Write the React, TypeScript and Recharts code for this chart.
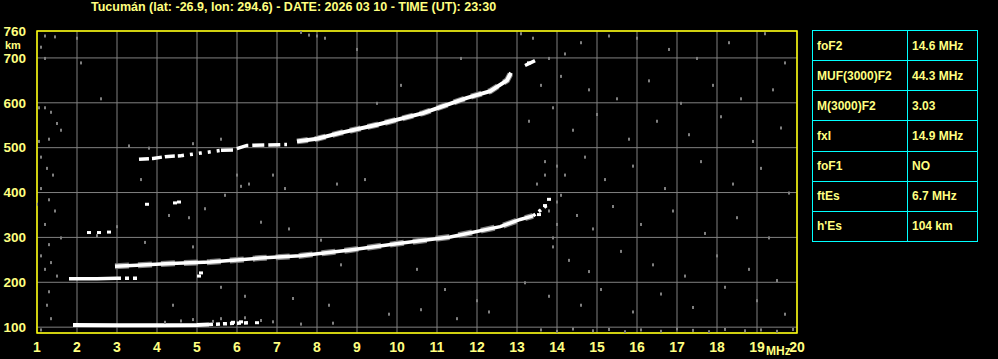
import React from "react";
import {
  ComposedChart,
  Line,
  Scatter,
  XAxis,
  YAxis,
  CartesianGrid,
  ReferenceArea,
} from "recharts";

type Pt = { f: number; h: number };
const pts = (a: number[][]): Pt[] => a.map(([f, h]) => ({ f, h }));

const freqTicks = [1, 2, 3, 4, 5, 6, 7, 8, 9, 10, 11, 12, 13, 14, 15, 16, 17, 18, 19, 20];
const heightTicks = [100, 200, 300, 400, 500, 600, 700, 760];

// E-layer echo (~104 km)
const eTrace = pts([[1.9, 105], [3, 104], [4, 104], [5, 105], [5.3, 106]]);
const eTraceSpotty = pts([[5.3, 106], [5.8, 108], [6.3, 110]]);

// low trace near 210 km
const lowTrace = pts([[1.8, 208], [2.5, 208], [3.0, 209]]);
const lowTraceSpotty = pts([[3.0, 209], [3.5, 209]]);

// F-layer trace
const fTrace = pts([
  [2.95, 236], [3.5, 238], [4.33, 242], [5.33, 245], [6.58, 254], [7.58, 259],
  [8.83, 272], [10.08, 287], [11.33, 301], [12.58, 324], [13.08, 340], [13.4, 348],
]);
const fTraceSpotty = pts([[13.4, 348], [13.55, 358], [13.75, 372]]);

// second hop F trace
const f2TraceA = pts([[3.55, 474], [3.9, 476], [4.2, 480], [4.6, 482]]);
const f2TraceB = pts([[4.6, 482], [5.1, 488], [5.6, 494]]);
const f2TraceC = pts([[5.6, 494], [5.9, 495], [6.25, 505], [7.25, 507]]);
const f2TraceD = pts([
  [7.5, 514], [8.0, 520], [8.58, 533], [9.5, 551], [10.65, 577], [11.75, 611],
  [12.33, 626], [12.75, 650], [12.85, 667],
]);
const f2TraceE = pts([[13.2, 683], [13.45, 694]]);

// isolated bright echoes
const whiteSpots = pts([
  [3.75, 375], [4.45, 378], [4.55, 380], [2.3, 312], [2.55, 312], [2.8, 313],
  [5.05, 215], [5.1, 222], [13.55, 352], [13.7, 372], [13.8, 386], [5.9, 112],
  [6.1, 113], [6.5, 111], [13.3, 690],
]);

// background noise
const noise = pts([
  [1.2, 750], [1.45, 748], [1.1, 725], [1.2, 700], [1.05, 590], [1.2, 590], [1.35, 580],
  [1.5, 555], [1.6, 540], [1.3, 520], [1.05, 515], [1.1, 480], [1.25, 455], [1.4, 440],
  [1.1, 410], [1.3, 385], [1.0, 375], [1.45, 360], [1.2, 330], [1.6, 300], [1.3, 285],
  [1.1, 260], [1.35, 245], [1.2, 230], [1.5, 215], [1.3, 180], [1.25, 150], [1.35, 120],
  [1.1, 95], [2.0, 745], [2.1, 690], [2.6, 610], [3.3, 505], [3.8, 500], [4.9, 510],
  [5.6, 520], [3.6, 430], [4.3, 350], [4.8, 345], [5.2, 365], [5.7, 395], [6.1, 415],
  [6.3, 420], [6.0, 440], [6.9, 440], [7.2, 410], [8.5, 420], [9.2, 430], [9.5, 600],
  [10.1, 640], [11.6, 700], [8.0, 750], [7.6, 758], [7.8, 752], [8.2, 745], [9.0, 720],
  [6.6, 335], [7.3, 320], [8.1, 295], [8.6, 240], [10.5, 230], [11.2, 185], [12.0, 160],
  [3.0, 325], [2.5, 305], [3.7, 290], [4.9, 280], [5.6, 190], [6.2, 170], [7.4, 165],
  [8.3, 150], [9.8, 130], [10.6, 140], [11.5, 120], [12.3, 135], [4.4, 150],
  [4.2, 112], [4.6, 115], [4.9, 118], [5.4, 114], [5.6, 120], [6.2, 122], [6.6, 116],
  [6.9, 113], [7.6, 108], [8.4, 110],
  [13.1, 755], [13.4, 745], [13.8, 700], [14.2, 710], [14.6, 735], [15.3, 750], [16.0, 745],
  [16.8, 720], [17.5, 700], [18.3, 735], [19.2, 755], [19.7, 690], [13.6, 640], [14.1, 660],
  [14.8, 630], [15.5, 610], [16.3, 650], [17.1, 600], [17.9, 640], [18.6, 610], [19.4, 630],
  [13.3, 560], [13.9, 590], [14.4, 540], [15.0, 575], [15.8, 520], [16.5, 560], [17.3, 530],
  [18.1, 570], [18.9, 515], [19.6, 545], [13.7, 470], [14.2, 440], [14.7, 480], [15.2, 430],
  [15.9, 460], [16.7, 410], [17.6, 470], [18.4, 420], [19.1, 455], [19.8, 400], [13.5, 420],
  [14.0, 380], [14.5, 350], [14.9, 320], [15.4, 370], [16.1, 330], [16.9, 360], [17.7, 310],
  [18.5, 345], [19.3, 300], [13.9, 280], [14.3, 250], [14.8, 225], [15.6, 270], [16.4, 240],
  [17.2, 215], [18.0, 260], [18.8, 230], [19.5, 205], [13.2, 200], [13.8, 170], [14.6, 150],
  [15.1, 185], [15.9, 135], [16.6, 175], [17.4, 145], [18.2, 190], [19.0, 160], [19.7, 130],
  [13.9, 300], [14.0, 330], [13.8, 360], [14.1, 395], [13.7, 440], [14.0, 460],
  [13.6, 95], [14.0, 92], [14.4, 97], [14.9, 93], [15.3, 96], [15.7, 91], [16.1, 95],
  [16.6, 92], [17.0, 97], [17.4, 94], [17.8, 91], [18.2, 96], [18.7, 93], [19.1, 95],
  [19.5, 92], [19.9, 96],
]);

const params = [
  ["foF2", "14.6 MHz"],
  ["MUF(3000)F2", "44.3 MHz"],
  ["M(3000)F2", "3.03"],
  ["fxI", "14.9 MHz"],
  ["foF1", "NO"],
  ["ftEs", "6.7 MHz"],
  ["h'Es", "104 km"],
];

const title = "Tucumán (lat: -26.9, lon: 294.6) - DATE: 2026 03 10 - TIME (UT): 23:30";

const FONT = "'Liberation Sans', Arial, sans-serif";
const TXT = "#ffff80";

const NoiseDot = (props: any) => (
  <rect x={props.cx - 1} y={props.cy - 1} width={2} height={3} fill="#808080" />
);
const WhiteDot = (props: any) => (
  <rect x={props.cx - 2} y={props.cy - 1} width={4} height={3} fill="#ffffff" />
);

export default function App() {
  const lineProps = {
    dataKey: "h",
    type: "linear" as const,
    dot: false,
    isAnimationActive: false,
    stroke: "#ffffff",
    strokeWidth: 3.5,
    activeDot: false,
  };
  const fringe = { ...lineProps, stroke: "#808080", strokeWidth: 6 };
  return (
    <div
      style={{
        position: "absolute",
        left: 0,
        top: 0,
        width: 998,
        height: 359,
        background: "#000",
        fontFamily: FONT,
        overflow: "hidden",
      }}
    >
      <div
        style={{
          position: "absolute",
          left: 91,
          top: 0,
          color: TXT,
          fontWeight: "bold",
          fontSize: 12.5,
          whiteSpace: "nowrap",
        }}
      >
        {title}
      </div>
      <div
        style={{
          position: "absolute",
          left: 5,
          top: 40,
          color: TXT,
          fontWeight: "bold",
          fontSize: 11,
          lineHeight: "10px",
        }}
      >
        km
      </div>
      <div style={{ position: "absolute", left: 766, top: 344, color: TXT, fontWeight: "bold", fontSize: 12 }}>
        MHz
      </div>

      <ComposedChart
        width={998}
        height={359}
        margin={{ top: 31, right: 201, bottom: 0, left: 0 }}
        style={{ position: "absolute", left: 0, top: 0 }}
      >
        <CartesianGrid stroke="#808080" strokeWidth={1} />
        <XAxis
          type="number"
          dataKey="f"
          domain={[1, 20]}
          ticks={freqTicks}
          interval={0}
          allowDataOverflow
          height={26}
          tickLine={false}
          axisLine={false}
          tickMargin={3}
          tick={{ fill: TXT, fontSize: 14, fontWeight: "bold", fontFamily: FONT }}
        />
        <YAxis
          type="number"
          dataKey="h"
          domain={[87, 760]}
          ticks={heightTicks}
          interval={0}
          allowDataOverflow
          width={37}
          tickLine={false}
          axisLine={false}
          tickMargin={5}
          tick={{ fill: TXT, fontSize: 13.5, fontWeight: "bold", fontFamily: FONT }}
        />
        <Scatter data={noise} shape={NoiseDot} isAnimationActive={false} />
        <Line {...fringe} data={fTrace} strokeDasharray="14 9" />
        <Line {...fringe} data={f2TraceD} strokeDasharray="11 7" />
        <Line {...lineProps} data={eTrace} strokeWidth={4} />
        <Line {...lineProps} data={eTraceSpotty} strokeDasharray="4 3" />
        <Line {...lineProps} data={lowTrace} />
        <Line {...lineProps} data={lowTraceSpotty} strokeDasharray="4 4" />
        <Line {...lineProps} data={fTrace} />
        <Line {...lineProps} data={fTraceSpotty} strokeDasharray="3 4" />
        <Line {...lineProps} data={f2TraceA} strokeDasharray="10 3" />
        <Line {...lineProps} data={f2TraceB} strokeDasharray="3 6" />
        <Line {...lineProps} data={f2TraceC} strokeDasharray="12 4" />
        <Line {...lineProps} data={f2TraceD} strokeWidth={4} />
        <Line {...lineProps} data={f2TraceE} />
        <Scatter data={whiteSpots} shape={WhiteDot} isAnimationActive={false} />
        <ReferenceArea
          x1={1}
          x2={20}
          y1={87}
          y2={760}
          stroke="#ffff00"
          strokeWidth={1.5}
          fill="none"
          fillOpacity={0}
        />
      </ComposedChart>

      <table
        style={{
          position: "absolute",
          left: 812,
          top: 30,
          width: 166,
          height: 212,
          borderCollapse: "collapse",
          fontFamily: FONT,
          fontWeight: "bold",
          fontSize: 12,
          color: TXT,
        }}
      >
        <tbody>
          {params.map(([k, v]) => (
            <tr key={k} style={{ height: 30 }}>
              <td style={{ border: "1px solid #00ffff", width: 90, padding: "0 0 0 4px" }}>{k}</td>
              <td style={{ border: "1px solid #00ffff", padding: "0 0 0 4px" }}>{v}</td>
            </tr>
          ))}
        </tbody>
      </table>
    </div>
  );
}
